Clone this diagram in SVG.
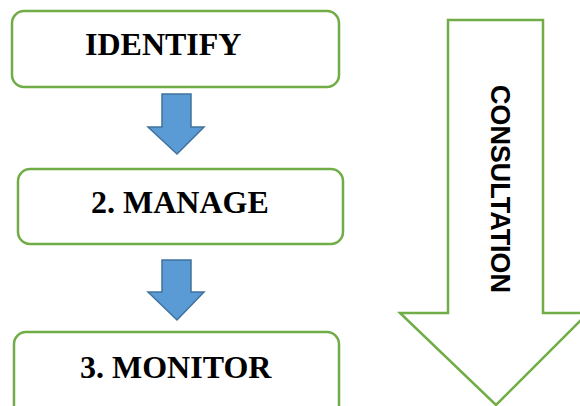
<svg xmlns="http://www.w3.org/2000/svg" width="580" height="406" viewBox="0 0 580 406">
<style>
.box{fill:#fff;stroke:#70AD47;stroke-width:2.5}
.lbl{font-family:"Liberation Serif","Times New Roman",serif;font-weight:bold;font-size:32px;fill:#000}
.blue{fill:#5B9BD5;stroke:#41719C;stroke-width:1.5}
.big{fill:#fff;stroke:#70AD47;stroke-width:2.5}
.cons{font-family:"Liberation Sans",Arial,sans-serif;font-weight:bold;font-size:28px;fill:#000}
</style>
<rect width="580" height="406" fill="#fff"/>
<g id="consultation">
<polygon class="big" points="448,20 543,20 543,313 588,313 496,405 400,313 448,313"/>
<text class="cons" transform="translate(491,189) rotate(90)" text-anchor="middle" textLength="208" lengthAdjust="spacingAndGlyphs">CONSULTATION</text>
</g>
<g id="connectors">
<polygon class="blue" points="162,94 191,94 191,127 204,127 177,154 148,127 162,127"/>
<polygon class="blue" points="162,260 191,260 191,292 204,292 177,320 148,292 162,292"/>
</g>
<g id="identify">
<rect class="box" x="12" y="11" width="327" height="76" rx="12"/>
<text class="lbl" x="85" y="55">IDENTIFY</text>
</g>
<g id="manage">
<rect class="box" x="18" y="169" width="325" height="75" rx="12"/>
<text class="lbl" x="91" y="213">2. MANAGE</text>
</g>
<g id="monitor">
<rect class="box" x="14" y="332" width="325" height="90" rx="12"/>
<text class="lbl" x="80" y="378">3. MONITOR</text>
</g>
</svg>
